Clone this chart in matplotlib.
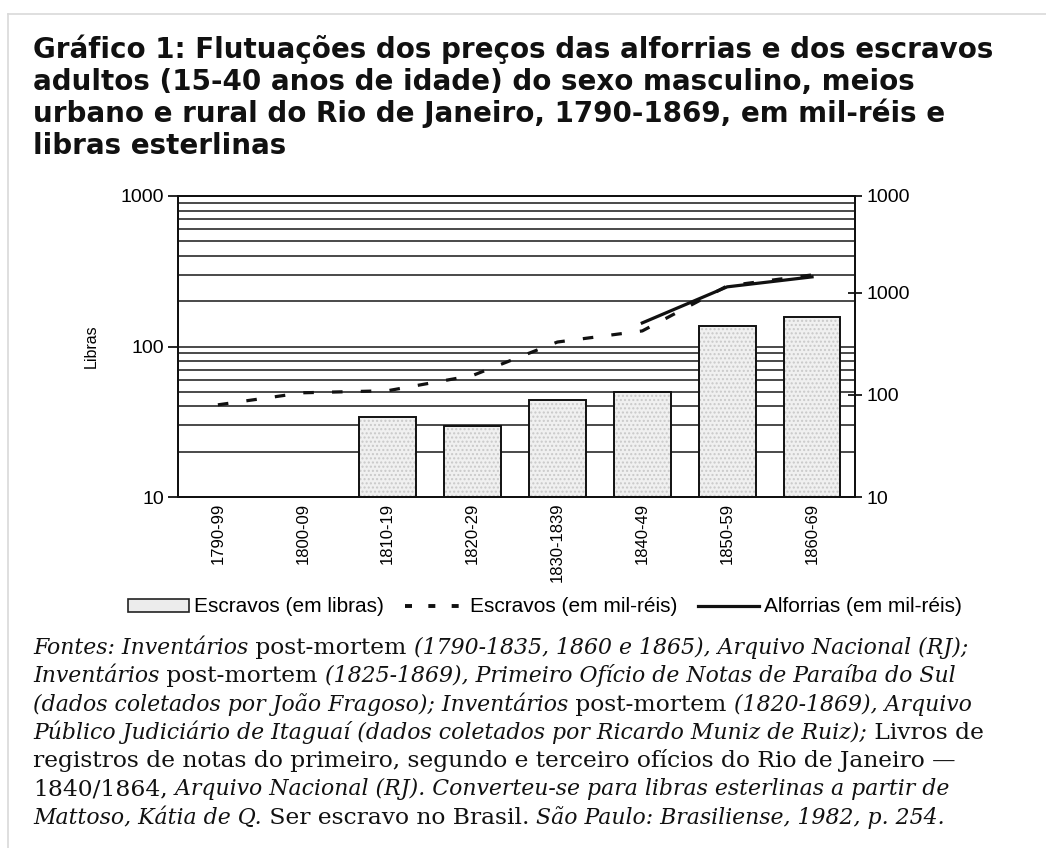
import numpy as np
import matplotlib
matplotlib.use("Agg")
import matplotlib.pyplot as plt
from matplotlib.patches import Patch
from matplotlib.lines import Line2D

# data
categories = ['1790-99', '1800-09', '1810-19', '1820-29', '1830-1839', '1840-49', '1850-59', '1860-69']
escravos_libras = [np.nan, np.nan, 34, 29.6, 44, 50, 137, 158]
escravos_milreis = [80, 105, 110, 155, 330, 424, 1170, 1500]
alforrias_milreis = [np.nan, np.nan, np.nan, np.nan, np.nan, 508, 1146, 1435]

left_ticks = [10, 100, 1000]
right_ticks = [10, 100, 1000, 8900]
right_labels = ['10', '100', '1000', '1000']

title_lines = [
    "Gráfico 1: Flutuações dos preços das alforrias e dos escravos",
    "adultos (15-40 anos de idade) do sexo masculino, meios",
    "urbano e rural do Rio de Janeiro, 1790-1869, em mil-réis e",
    "libras esterlinas",
]

# (text, italic?)
source_lines = [
    [("Fontes: Inventários", True), (" post-mortem", False), (" (1790-1835, 1860 e 1865), Arquivo Nacional (RJ);", True)],
    [("Inventários", True), (" post-mortem", False), (" (1825-1869), Primeiro Ofício de Notas de Paraíba do Sul", True)],
    [("(dados coletados por João Fragoso); Inventários", True), (" post-mortem", False), (" (1820-1869), Arquivo", True)],
    [("Público Judiciário de Itaguaí (dados coletados por Ricardo Muniz de Ruiz);", True), (" Livros de", False)],
    [("registros de notas do primeiro, segundo e terceiro ofícios do Rio de Janeiro —", False)],
    [("1840/1864,", False), (" Arquivo Nacional (RJ). Converteu-se para libras esterlinas a partir de", True)],
    [("Mattoso, Kátia de Q.", True), (" Ser escravo no Brasil.", False), (" São Paulo: Brasiliense, 1982, p. 254.", True)],
]

W, H = 1046, 848
fig = plt.figure(figsize=(W / 100, H / 100), dpi=100)
fig.patch.set_facecolor('white')

# thin frame of the screenshot
fig.add_artist(Line2D([8 / W, 1], [1 - 14 / H, 1 - 14 / H], color='#d9d9d9', lw=1.2))
fig.add_artist(Line2D([8 / W, 8 / W], [0, 1 - 14 / H], color='#d9d9d9', lw=1.2))

# title
for i, line in enumerate(title_lines):
    fig.text(33 / W, 1 - (58 + i * 31.9) / H, line, fontsize=20, fontweight='bold',
             family='DejaVu Sans', va='baseline', ha='left', color='#111111')

ax_l, ax_r, ax_b, ax_t = 178, 855, 497, 196
ax = fig.add_axes([ax_l / W, 1 - ax_b / H, (ax_r - ax_l) / W, (ax_b - ax_t) / H])
ax.set_yscale('log')
ax.set_ylim(10, 1000)
x = np.arange(len(categories))
ax.set_xlim(-0.47, 7.506)

# gridlines at every log step
grid_vals = [v * d for d in (10, 100) for v in range(2, 10)] + [100, 1000]
for g in grid_vals:
    ax.axhline(g, color='#2a2a2a', lw=1.2, zorder=0)

idx = [i for i, v in enumerate(escravos_libras) if not np.isnan(v)]
bx = x[idx]
bh = [escravos_libras[i] - 10 for i in idx]
ax.bar(bx, bh, width=0.67, bottom=10, color='#f0f0f0', edgecolor='#c9c9c9', hatch='....',
       linewidth=0, zorder=2)
ax.bar(bx, bh, width=0.67, bottom=10, fill=False, edgecolor='#111111', linewidth=1.4, zorder=3)

ax.set_yticks(left_ticks)
ax.set_yticklabels(['10', '100', '1000'])
ax.yaxis.set_minor_locator(matplotlib.ticker.NullLocator())
ax.tick_params(axis='y', which='major', length=7, width=1.2, labelsize=14, pad=3)
ax.set_xticks(x)
ax.set_xticklabels(categories, rotation=90, fontsize=12)
ax.tick_params(axis='x', length=0, pad=4)
ax.set_ylabel('Libras', fontsize=11.5, labelpad=16)
for s in ax.spines.values():
    s.set_linewidth(1.4)
    s.set_color('#111111')
for lab in ax.get_xticklabels() + ax.get_yticklabels():
    lab.set_family('Liberation Sans')
ax.yaxis.label.set_family('Liberation Sans')

ax2 = ax.twinx()
ax2.set_yscale('log')
ax2.set_ylim(10, 8900)
ax2.plot(x, escravos_milreis, color='#111111', lw=2.3, dashes=(3.3, 5.7), zorder=5)
ax2.plot(x, alforrias_milreis, color='#111111', lw=2.3, zorder=4)
ax2.set_yticks(right_ticks)
ax2.set_yticklabels(right_labels)
ax2.yaxis.set_minor_locator(matplotlib.ticker.NullLocator())
ax2.tick_params(axis='y', which='major', direction='inout', length=10, width=1.2,
                labelsize=14, pad=3)
for lab in ax2.get_yticklabels():
    lab.set_family('Liberation Sans')
for s in ax2.spines.values():
    s.set_linewidth(1.4)
    s.set_color('#111111')

# legend
handles = [
    Patch(facecolor='#ececec', edgecolor='#222222', linewidth=1.2),
    Line2D([], [], color='#111111', lw=2.8, dashes=(1.8, 4.2)),
    Line2D([], [], color='#111111', lw=2.3),
]
labels = ['Escravos (em libras)', 'Escravos (em mil-réis)', 'Alforrias (em mil-réis)']
fig.legend(handles, labels, loc='center', bbox_to_anchor=(545 / W, 1 - 607 / H), ncol=3,
           frameon=False, handlelength=2.9, handleheight=0.6, handletextpad=0.25,
           columnspacing=1.0, prop={'family': 'Liberation Sans', 'size': 15})

# sources text, built segment by segment
for i, segs in enumerate(source_lines):
    y = 1 - (654 + i * 28.3) / H
    prev = None
    for text, italic in segs:
        kw = dict(fontsize=15.8 if italic else 16.8, family='DejaVu Serif', color='#111111',
                  style='italic' if italic else 'normal')
        if prev is None:
            prev = fig.text(33 / W, y, text, va='baseline', ha='left', **kw)
        else:
            prev = ax.annotate(text, xy=(1, 0), xycoords=prev, va='bottom', ha='left',
                               annotation_clip=False, **kw)

fig.savefig('out.png', dpi=100)
